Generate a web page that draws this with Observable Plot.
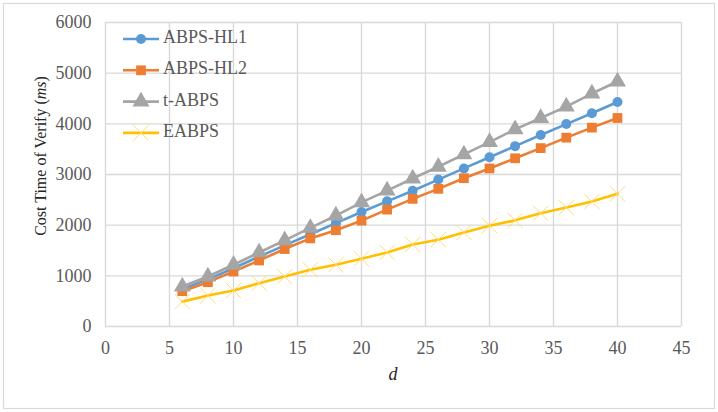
<!DOCTYPE html>
<html>
<head>
<meta charset="utf-8">
<script src="https://cdn.jsdelivr.net/npm/d3@7"></script>
<script src="https://cdn.jsdelivr.net/npm/@observablehq/plot@0.6"></script>
<style>
  html, body { margin: 0; padding: 0; background: #fff; }
  #chart { width: 718px; height: 412px; }
</style>
</head>
<body>
<div id="chart"></div>
<script>
// Verification cost (ms) for each scheme as the parameter d grows
const dValues = [6, 8, 10, 12, 14, 16, 18, 20, 22, 24, 26, 28, 30, 32, 34, 36, 38, 40];
const abpsHL1 = [740, 930, 1150, 1380, 1600, 1820, 2040, 2260, 2470, 2680, 2900, 3120, 3340, 3560, 3780, 3995, 4210, 4430];
const abpsHL2 = [697, 875, 1085, 1303, 1529, 1739, 1900, 2089, 2307, 2519, 2717, 2927, 3119, 3320, 3521, 3727, 3925, 4115];
const tABPS   = [788, 986, 1218, 1461, 1699, 1945, 2188, 2451, 2683, 2921, 3152, 3396, 3640, 3891, 4115, 4340, 4598, 4836];
const eABPS   = [491, 610, 709, 855, 986, 1119, 1218, 1337, 1462, 1620, 1713, 1857, 1990, 2095, 2234, 2347, 2465, 2618];

const seriesNames = ["ABPS-HL1", "ABPS-HL2", "t-ABPS", "EABPS"];
const seriesValues = [abpsHL1, abpsHL2, tABPS, eABPS];

const xTicks = [0, 5, 10, 15, 20, 25, 30, 35, 40, 45];
const yTicks = [0, 1000, 2000, 3000, 4000, 5000, 6000];

// Per-series look: line colour, marker symbol, marker styling
const styles = {
  "ABPS-HL1": {color: "#5b9bd5", symbol: "circle",   r: 5,   fill: "#5b9bd5", stroke: "none", sw: 0},
  "ABPS-HL2": {color: "#ed7d31", symbol: "square",   r: 5.5, fill: "#ed7d31", stroke: "none", sw: 0},
  "t-ABPS":   {color: "#a5a5a5", symbol: "triangle", r: 6.3, fill: "#a5a5a5", stroke: "none", sw: 0},
  "EABPS":    {color: "#ffc000", symbol: "times",    r: 7,   fill: "none",    stroke: "#ffdc73", sw: 1}
};

const rows = seriesNames.flatMap((name, i) =>
  dValues.map((d, j) => ({series: name, d, value: seriesValues[i][j]}))
);

const font = "'Liberation Serif', 'Times New Roman', serif";
const textColor = "#595959";
const gridColor = "#d9d9d9";

const seriesMarks = seriesNames.flatMap(name => {
  const s = styles[name];
  const data = rows.filter(r => r.series === name);
  return [
    Plot.line(data, {x: "d", y: "value", stroke: s.color, strokeWidth: 2.6}),
    Plot.dot(data, {
      x: "d", y: "value", symbol: () => s.symbol, r: s.r,
      fill: s.fill, stroke: s.stroke, strokeWidth: s.sw
    })
  ];
});

const chart = Plot.plot({
  width: 718,
  height: 412,
  marginLeft: 105,
  marginRight: 37,
  marginTop: 22,
  marginBottom: 86,
  style: {fontFamily: font, fontSize: "18px", color: textColor, background: "#fff"},
  x: {domain: [0, 45]},
  y: {domain: [0, 6000]},
  symbol: {type: "identity"},
  marks: [
    Plot.gridX(xTicks, {stroke: gridColor, strokeOpacity: 1, strokeWidth: 1.4}),
    Plot.gridY(yTicks, {stroke: gridColor, strokeOpacity: 1, strokeWidth: 1.4}),
    Plot.axisX(xTicks, {tickSize: 0, tickPadding: 15, label: null, fill: textColor, fontSize: 18, tickFormat: d => String(d)}),
    Plot.axisY(yTicks, {tickSize: 0, tickPadding: 14, label: null, fill: textColor, fontSize: 18, tickFormat: d => String(d)}),
    ...seriesMarks
  ]
});

document.getElementById("chart").appendChild(chart);

const svg = d3.select(chart);

// Outer chart-area border
svg.append("rect")
  .attr("x", 3.5).attr("y", 3.5)
  .attr("width", 711).attr("height", 405)
  .attr("fill", "none").attr("stroke", gridColor).attr("stroke-width", 1.2);

// Axis titles
const yTitle = svg.append("text")
  .attr("transform", "translate(42,156) rotate(-90)")
  .attr("text-anchor", "middle")
  .attr("dominant-baseline", "middle")
  .attr("font-size", 16)
  .attr("fill", "#262626");
yTitle.append("tspan").text("Cost Time of Verify (");
yTitle.append("tspan").attr("font-style", "italic").text("ms");
yTitle.append("tspan").text(")");

svg.append("text")
  .attr("x", 393).attr("y", 376)
  .attr("text-anchor", "middle")
  .attr("dominant-baseline", "middle")
  .attr("font-style", "italic")
  .attr("font-size", 18)
  .attr("fill", "#262626")
  .text("d");

// Legend
const symbolTypes = {
  circle: d3.symbolCircle,
  square: d3.symbolSquare,
  triangle: d3.symbolTriangle,
  times: d3.symbolTimes
};
const legend = svg.append("g").attr("transform", "translate(123,39)");
seriesNames.forEach((name, i) => {
  const s = styles[name];
  const g = legend.append("g").attr("transform", `translate(0,${i * 31.3})`);
  g.append("line")
    .attr("x1", 0).attr("x2", 36).attr("y1", 0).attr("y2", 0)
    .attr("stroke", s.color).attr("stroke-width", 2.6);
  g.append("path")
    .attr("transform", "translate(18,0)")
    .attr("d", d3.symbol(symbolTypes[s.symbol], s.r * s.r * Math.PI)())
    .attr("fill", s.fill)
    .attr("stroke", s.stroke === "none" ? null : s.stroke)
    .attr("stroke-width", s.sw);
  g.append("text")
    .attr("x", 40).attr("y", 0)
    .attr("text-anchor", "start")
    .attr("dominant-baseline", "middle")
    .attr("font-size", 18)
    .attr("fill", textColor)
    .text(name);
});

// Serif face for every label, including the axis tick text
svg.selectAll("text")
  .style("font-family", font)
  .style("font-variant", "normal");
</script>
</body>
</html>
